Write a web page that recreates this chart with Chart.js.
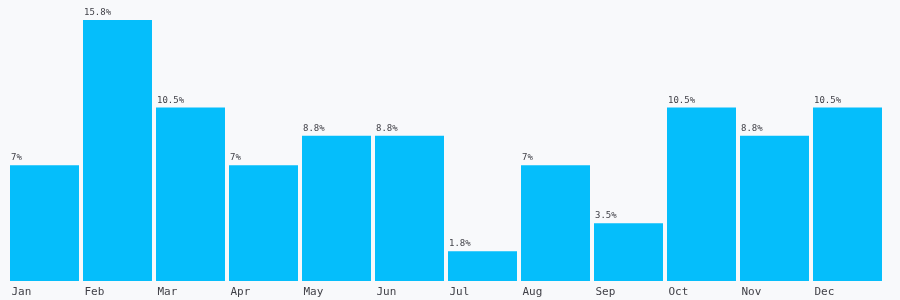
<!DOCTYPE html>
<html>
<head>
<meta charset="utf-8">
<script src="https://cdn.jsdelivr.net/npm/chart.js@4/dist/chart.umd.min.js"></script>
<style>
  html, body { margin: 0; padding: 0; background: #f8f9fb; }
  #wrap { width: 900px; height: 300px; }
</style>
</head>
<body>
<div id="wrap"><canvas id="c" width="900" height="300"></canvas></div>
<script>
const months = ["Jan","Feb","Mar","Apr","May","Jun","Jul","Aug","Sep","Oct","Nov","Dec"];
const shares = [7, 15.8, 10.5, 7, 8.8, 8.8, 1.8, 7, 3.5, 10.5, 8.8, 10.5];
const shareLabels = ["7%","15.8%","10.5%","7%","8.8%","8.8%","1.8%","7%","3.5%","10.5%","8.8%","10.5%"];

const barColor = "#05befb";
const textColor = "#3f3f46";

const valueLabels = {
  id: "valueLabels",
  afterDatasetsDraw(chart) {
    const ctx = chart.ctx;
    const meta = chart.getDatasetMeta(0);
    ctx.save();
    ctx.font = "9px 'DejaVu Sans Mono', monospace";
    ctx.fillStyle = textColor;
    ctx.textAlign = "left";
    ctx.textBaseline = "alphabetic";
    meta.data.forEach((bar, i) => {
      const left = bar.x - bar.width / 2;
      ctx.fillText(shareLabels[i], left + 1, bar.y - 5);
    });
    ctx.restore();
  }
};

new Chart(document.getElementById("c"), {
  type: "bar",
  data: {
    labels: months,
    datasets: [{
      data: shares,
      backgroundColor: barColor,
      borderWidth: 0,
      barPercentage: 0.945,
      categoryPercentage: 1
    }]
  },
  options: {
    responsive: false,
    animation: false,
    layout: { padding: { left: 8, right: 16, top: 20, bottom: 0 } },
    plugins: { legend: { display: false }, tooltip: { enabled: false } },
    scales: {
      x: {
        grid: { display: false, drawTicks: false },
        border: { display: false },
        afterFit(scale) { scale.height = 19; },
        ticks: {
          align: "start",
          labelOffset: -33,
          padding: 6,
          color: textColor,
          font: { family: "'DejaVu Sans Mono', monospace", size: 11, lineHeight: 1 }
        }
      },
      y: {
        display: false,
        min: 0,
        max: 15.8
      }
    }
  },
  plugins: [valueLabels]
});
</script>
</body>
</html>
